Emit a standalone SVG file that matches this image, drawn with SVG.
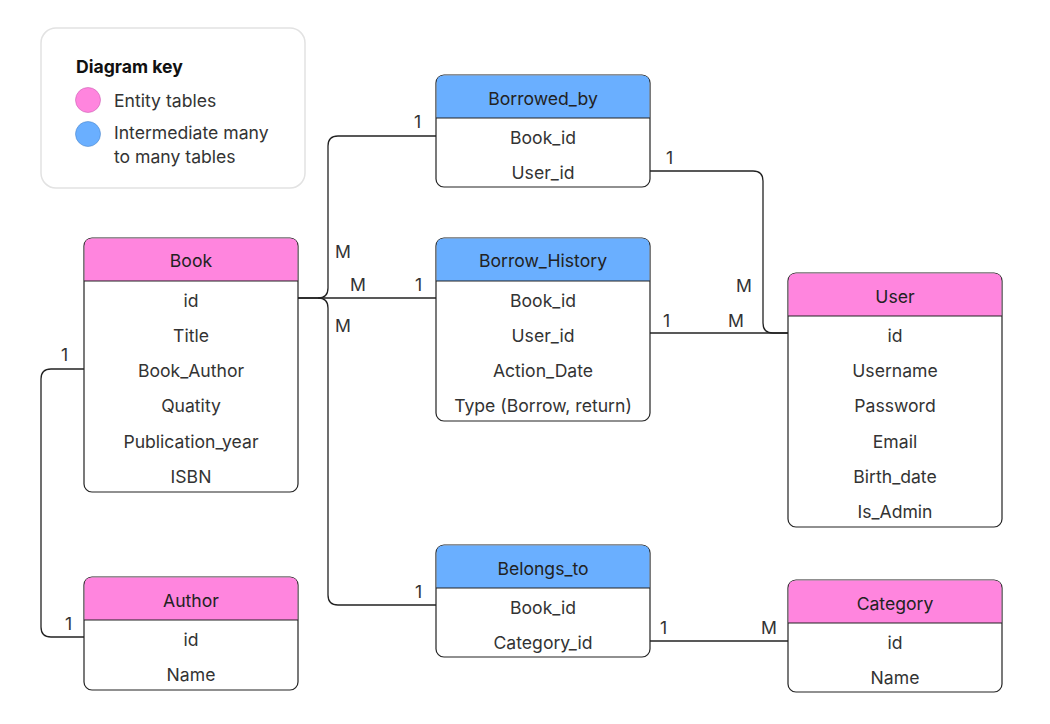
<svg xmlns="http://www.w3.org/2000/svg" width="1050" height="724" viewBox="0 0 1050 724">
<style>
text{font-family:Inter,"Noto Sans","Liberation Sans",sans-serif;font-size:17.6px;fill:#333;}
.h{fill:#222;text-anchor:middle;}
.r{text-anchor:middle;}
.lbl{fill:#333;}
.box{fill:#fff;stroke:#222;stroke-width:1.2;}
.pink{fill:#FF85DE;}
.blue{fill:#6AAFFF;}
.sep{stroke:#222;stroke-width:1.2;}
.c{fill:none;stroke:#222;stroke-width:1.3;}
</style>
<rect width="1050" height="724" fill="#fff"/>
<g id="key">
<rect x="41" y="28" width="264" height="160" rx="15" fill="#fff" stroke="#e2e2e2" stroke-width="1.5"/>
<text x="76" y="73" style="font-weight:bold;fill:#111">Diagram key</text>
<circle cx="88" cy="100" r="12.5" fill="#FF85DE" stroke="#c050a8" stroke-width="0.5"/>
<circle cx="88" cy="134" r="12.5" fill="#6AAFFF" stroke="#3f7ac0" stroke-width="0.5"/>
<text x="114" y="107">Entity tables</text>
<text x="114" y="139">Intermediate many</text>
<text x="114" y="163">to many tables</text>
</g>
<g id="connectors">
<path class="c" d="M298 298 H436"/>
<path class="c" d="M298 298 H318 Q328 298 328 288 V146 Q328 136 338 136 H436"/>
<path class="c" d="M318 298 Q328 298 328 308 V595 Q328 605 338 605 H436"/>
<path class="c" d="M650 171 H753 Q763 171 763 181 V323 Q763 333 773 333 H788"/>
<path class="c" d="M650 333 H788"/>
<path class="c" d="M84 369 H51 Q41 369 41 379 V627 Q41 637 51 637 H84"/>
<path class="c" d="M650 641 H788"/>
<text class="lbl" x="335" y="258">M</text>
<text class="lbl" x="350" y="291">M</text>
<text class="lbl" x="415" y="291">1</text>
<text class="lbl" x="335" y="332">M</text>
<text class="lbl" x="414" y="128">1</text>
<text class="lbl" x="415" y="598">1</text>
<text class="lbl" x="666" y="164">1</text>
<text class="lbl" x="736" y="292">M</text>
<text class="lbl" x="663" y="327">1</text>
<text class="lbl" x="728" y="327">M</text>
<text class="lbl" x="61" y="361">1</text>
<text class="lbl" x="65" y="630">1</text>
<text class="lbl" x="660" y="634">1</text>
<text class="lbl" x="761" y="634">M</text>
</g>
<g id="book">
<rect class="box" x="84" y="238" width="214" height="254" rx="8"/>
<path class="pink" d="M92 238.6 H290 Q297.4 238.6 297.4 246 V281 H84.6 V246 Q84.6 238.6 92 238.6 Z"/>
<line class="sep" x1="84" y1="281" x2="298" y2="281"/>
<text class="h" x="191" y="267">Book</text>
<text class="r" x="191" y="306.5">id</text>
<text class="r" x="191" y="341.5">Title</text>
<text class="r" x="191" y="377">Book_Author</text>
<text class="r" x="191" y="412">Quatity</text>
<text class="r" x="191" y="447.5">Publication_year</text>
<text class="r" x="191" y="482.5">ISBN</text>
</g>
<g id="author">
<rect class="box" x="84" y="577" width="214" height="113" rx="8"/>
<path class="pink" d="M92 577.6 H290 Q297.4 577.6 297.4 585 V620 H84.6 V585 Q84.6 577.6 92 577.6 Z"/>
<line class="sep" x1="84" y1="620" x2="298" y2="620"/>
<text class="h" x="191" y="606.5">Author</text>
<text class="r" x="191" y="645.5">id</text>
<text class="r" x="191" y="681">Name</text>
</g>
<g id="borrowed_by">
<rect class="box" x="436" y="75" width="214" height="112" rx="8"/>
<path class="blue" d="M444 75.6 H642 Q649.4 75.6 649.4 83 V118 H436.6 V83 Q436.6 75.6 444 75.6 Z"/>
<line class="sep" x1="436" y1="118" x2="650" y2="118"/>
<text class="h" x="543" y="104.5">Borrowed_by</text>
<text class="r" x="543" y="143.5">Book_id</text>
<text class="r" x="543" y="178.5">User_id</text>
</g>
<g id="borrow_history">
<rect class="box" x="436" y="238" width="214" height="183" rx="8"/>
<path class="blue" d="M444 238.6 H642 Q649.4 238.6 649.4 246 V281 H436.6 V246 Q436.6 238.6 444 238.6 Z"/>
<line class="sep" x1="436" y1="281" x2="650" y2="281"/>
<text class="h" x="543" y="267">Borrow_History</text>
<text class="r" x="543" y="306.5">Book_id</text>
<text class="r" x="543" y="341.5">User_id</text>
<text class="r" x="543" y="376.5">Action_Date</text>
<text class="r" x="543" y="412">Type (Borrow, return)</text>
</g>
<g id="belongs_to">
<rect class="box" x="436" y="545" width="214" height="112" rx="8"/>
<path class="blue" d="M444 545.6 H642 Q649.4 545.6 649.4 553 V588 H436.6 V553 Q436.6 545.6 444 545.6 Z"/>
<line class="sep" x1="436" y1="588" x2="650" y2="588"/>
<text class="h" x="543" y="574.5">Belongs_to</text>
<text class="r" x="543" y="613.5">Book_id</text>
<text class="r" x="543" y="648.5">Category_id</text>
</g>
<g id="user">
<rect class="box" x="788" y="273" width="214" height="254" rx="8"/>
<path class="pink" d="M796 273.6 H994 Q1001.4 273.6 1001.4 281 V316 H788.6 V281 Q788.6 273.6 796 273.6 Z"/>
<line class="sep" x1="788" y1="316" x2="1002" y2="316"/>
<text class="h" x="895" y="302.5">User</text>
<text class="r" x="895" y="341.5">id</text>
<text class="r" x="895" y="376.5">Username</text>
<text class="r" x="895" y="412">Password</text>
<text class="r" x="895" y="447.5">Email</text>
<text class="r" x="895" y="482.5">Birth_date</text>
<text class="r" x="895" y="517.5">Is_Admin</text>
</g>
<g id="category">
<rect class="box" x="788" y="580" width="214" height="112" rx="8"/>
<path class="pink" d="M796 580.6 H994 Q1001.4 580.6 1001.4 588 V623 H788.6 V588 Q788.6 580.6 796 580.6 Z"/>
<line class="sep" x1="788" y1="623" x2="1002" y2="623"/>
<text class="h" x="895" y="610">Category</text>
<text class="r" x="895" y="648.5">id</text>
<text class="r" x="895" y="684">Name</text>
</g>
</svg>
